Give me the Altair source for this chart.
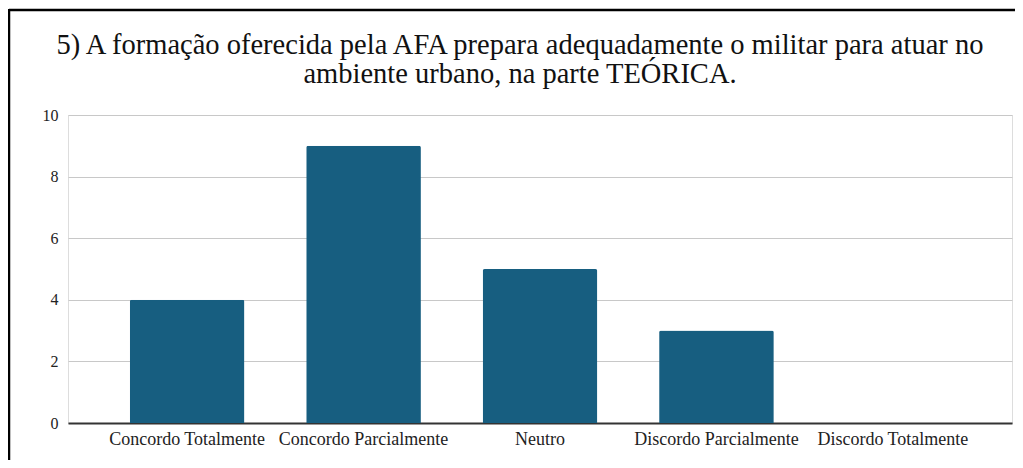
import altair as alt
import pandas as pd

categories = ["Concordo Totalmente", "Concordo Parcialmente", "Neutro",
              "Discordo Parcialmente", "Discordo Totalmente"]
values = [4, 9, 5, 3, 0]
y_ticks = [0, 2, 4, 6, 8, 10]
title_lines = ["5) A formação oferecida pela AFA prepara adequadamente o militar para atuar no",
               "ambiente urbano, na parte TEÓRICA."]

df = pd.DataFrame({"categoria": categories, "valor": values})

FONT = "Liberation Serif"

bars = alt.Chart(df).mark_bar(
    color="#175e80", cornerRadiusTopLeft=2, cornerRadiusTopRight=2
).encode(
    x=alt.X("categoria:N", sort=categories,
            scale=alt.Scale(paddingInner=0.35, paddingOuter=0.35),
            axis=alt.Axis(title=None, labelAngle=0, ticks=False, domain=True,
                          domainColor="#333333", domainWidth=2,
                          labelFont=FONT, labelFontSize=18, labelColor="#222222",
                          labelPadding=7, grid=False)),
    y=alt.Y("valor:Q", scale=alt.Scale(domain=[0, 10]),
            axis=alt.Axis(title=None, values=y_ticks, ticks=False, domain=False,
                          labelFont=FONT, labelFontSize=16, labelColor="#222222",
                          labelPadding=10, gridColor="#c8c8c8", gridWidth=1))
)

t1 = pd.DataFrame({"t": [title_lines[0]]})
t2 = pd.DataFrame({"t": [title_lines[1]]})
title_1 = alt.Chart(t1).mark_text(
    font=FONT, fontSize=28.5, color="#111111", align="center", baseline="alphabetic"
).encode(text="t:N", x=alt.value(452), y=alt.value(-61))
title_2 = alt.Chart(t2).mark_text(
    font=FONT, fontSize=28.5, color="#111111", align="center", baseline="alphabetic"
).encode(text="t:N", x=alt.value(452), y=alt.value(-32))

top_border = alt.Chart(t1).mark_rule(color="#000000", strokeWidth=2.5).encode(
    x=alt.value(-59), x2=alt.value(970), y=alt.value(-105)
)
left_border = alt.Chart(t1).mark_rule(color="#000000", strokeWidth=2.5).encode(
    x=alt.value(-59), y=alt.value(-106), y2=alt.value(370)
)

chart = alt.layer(bars, title_1, title_2, top_border, left_border).properties(
    width=944, height=308,
    autosize=alt.AutoSizeParams(type="none"),
    padding={"left": 60, "top": 107, "right": 3, "bottom": 37},
).configure_view(stroke="transparent", strokeWidth=0).configure(background="white")

chart.save("out.html", embed_options={"renderer": "svg", "actions": False})
